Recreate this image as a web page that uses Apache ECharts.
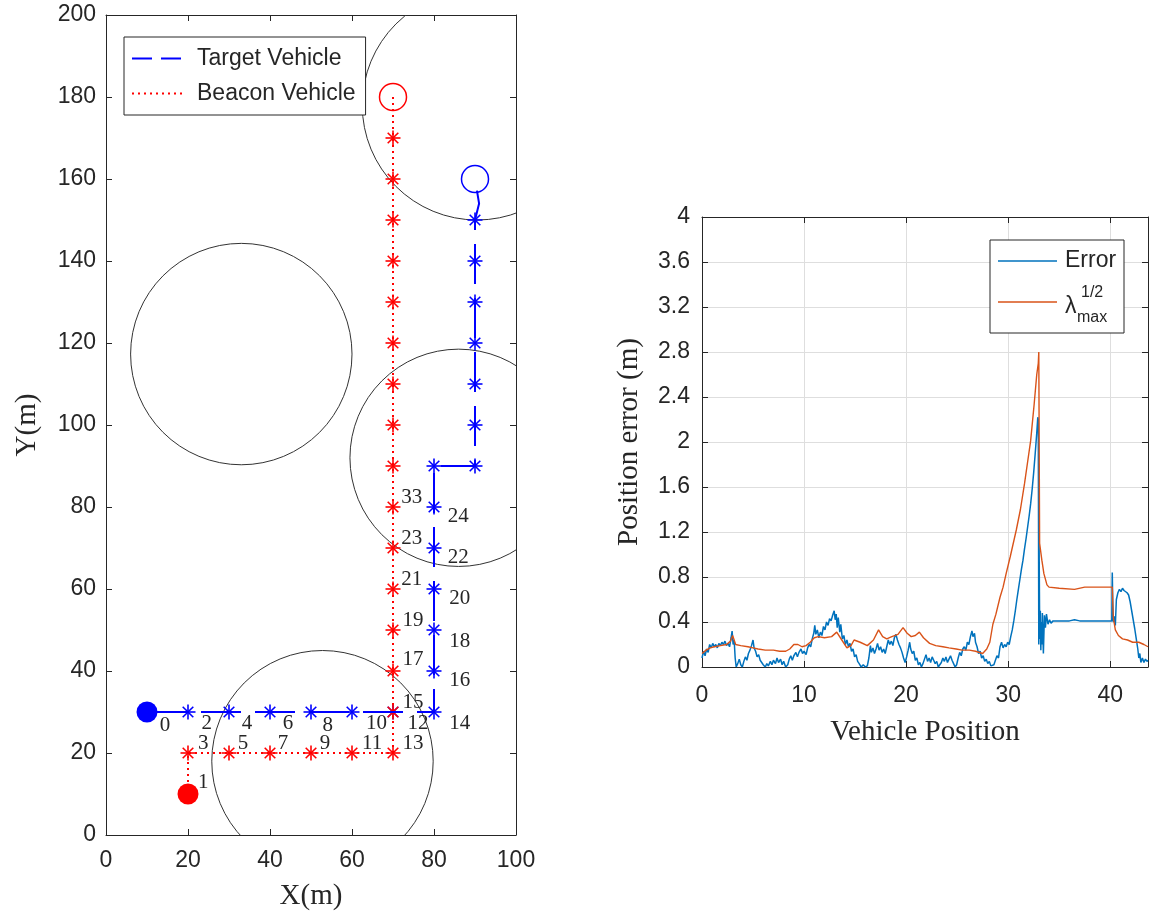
<!DOCTYPE html>
<html>
<head>
<meta charset="utf-8">
<script src="https://cdn.jsdelivr.net/npm/echarts@6/dist/echarts.min.js"></script>
<style>
html, body { margin: 0; padding: 0; background: #fff; }
#chart { width: 1152px; height: 915px; }
</style>
</head>
<body>
<div id="chart"></div>
<script>
// ---- left panel: vehicle tracks (m) ----
var targetPathX = [10, 20, 30, 40, 50, 60, 70, 80, 80, 80, 80, 80, 80, 80, 90, 90, 90, 90, 90, 90, 90, 91, 90]
var targetPathY = [30, 30, 30, 30, 30, 30, 30, 30, 40, 50, 60, 70, 80, 90, 90, 100, 110, 120, 130, 140, 150, 154, 160]
var targetStarX = [20, 30, 40, 50, 60, 70, 80, 80, 80, 80, 80, 80, 80, 90, 90, 90, 90, 90, 90, 90]
var targetStarY = [30, 30, 30, 30, 30, 30, 30, 40, 50, 60, 70, 80, 90, 90, 100, 110, 120, 130, 140, 150]
var beaconPathX = [20, 20, 30, 40, 50, 60, 70, 70, 70, 70, 70, 70, 70, 70, 70, 70, 70, 70, 70, 70, 70, 70, 70]
var beaconPathY = [10, 20, 20, 20, 20, 20, 20, 30, 40, 50, 60, 70, 80, 90, 100, 110, 120, 130, 140, 150, 160, 170, 180]
var beaconStarX = [20, 30, 40, 50, 60, 70, 70, 70, 70, 70, 70, 70, 70, 70, 70, 70, 70, 70, 70, 70, 70]
var beaconStarY = [20, 20, 20, 20, 20, 20, 30, 40, 50, 60, 70, 80, 90, 100, 110, 120, 130, 140, 150, 160, 170]
var startX = [10, 20]
var startY = [30, 10]
var endX = [90, 70]
var endY = [160, 180]

// coverage circles: centre and radius (m)
var circleCX = [90.5, 33, 86, 52.8]
var circleCY = [178, 117.3, 92, 18]
var circleR = [28, 27, 26.5, 27]

// step numbers
var stepText = ['0', '1', '2', '3', '4', '5', '6', '7', '8', '9', '10', '11', '12', '13', '14', '15', '16', '17', '18', '19', '20', '21', '22', '23', '24', '33']
var stepX = [14.4, 23.7, 24.6, 23.7, 34.4, 33.4, 44.4, 43.2, 54.1, 53.4, 66, 64.9, 76.1, 74.9, 86.3, 74.9, 86.3, 74.9, 86.3, 74.9, 86.3, 74.6, 85.9, 74.6, 85.9, 74.6]
var stepY = [26.8, 12.7, 27.3, 22.4, 27.3, 22.4, 27.3, 22.4, 26.8, 22.4, 27.3, 22.4, 27.3, 22.4, 27.3, 32.4, 37.8, 42.7, 47.1, 52.4, 57.8, 62.2, 67.6, 72.4, 77.6, 82.2]

// ---- right panel: position error vs vehicle position ----
var errX = [
  0.0, 0.15, 0.3, 0.45, 0.6, 0.75, 0.9, 1.05, 1.2, 1.35,
  1.5, 1.65, 1.8, 1.95, 2.1, 2.25, 2.4, 2.55, 2.7, 2.85,
  2.95, 3.05, 3.15, 3.25, 3.35, 3.5, 3.65, 3.8, 3.95, 4.1,
  4.25, 4.4, 4.55, 4.7, 4.85, 5.0, 5.1, 5.25, 5.4, 5.55,
  5.7, 5.85, 6.0, 6.2, 6.35, 6.5, 6.7, 6.85, 7.0, 7.2,
  7.35, 7.5, 7.7, 7.85, 8.0, 8.2, 8.4, 8.55, 8.7, 8.85,
  9.0, 9.2, 9.35, 9.5, 9.7, 9.85, 10.0, 10.2, 10.35, 10.5,
  10.65, 10.8, 10.95, 11.05, 11.15, 11.3, 11.45, 11.6, 11.75, 11.9,
  12.05, 12.2, 12.35, 12.5, 12.65, 12.8, 12.95, 13.05, 13.15, 13.25,
  13.35, 13.5, 13.6, 13.75, 13.9, 14.05, 14.2, 14.35, 14.5, 14.65,
  14.8, 14.95, 15.1, 15.25, 15.4, 15.6, 15.8, 16.0, 16.2, 16.35,
  16.5, 16.6, 16.75, 16.9, 17.05, 17.2, 17.35, 17.5, 17.65, 17.8,
  17.95, 18.1, 18.25, 18.4, 18.55, 18.7, 18.85, 19.0, 19.15, 19.3,
  19.45, 19.6, 19.75, 19.9, 20.05, 20.2, 20.35, 20.45, 20.6, 20.75,
  20.9, 21.05, 21.2, 21.35, 21.5, 21.65, 21.8, 21.95, 22.1, 22.25,
  22.4, 22.55, 22.7, 22.85, 23.0, 23.15, 23.3, 23.45, 23.6, 23.75,
  23.9, 24.05, 24.2, 24.35, 24.5, 24.65, 24.8, 24.95, 25.1, 25.25,
  25.4, 25.55, 25.7, 25.85, 26.0, 26.15, 26.3, 26.45, 26.55, 26.7,
  26.8, 26.95, 27.1, 27.25, 27.4, 27.55, 27.7, 27.85, 28.0, 28.15,
  28.3, 28.45, 28.6, 28.75, 28.9, 29.05, 29.2, 29.35, 29.5, 29.65,
  29.8, 29.95, 30.1, 30.25, 30.4, 30.55, 30.7, 30.85, 31.0, 31.15,
  31.3, 31.45, 31.6, 31.75, 31.9, 32.05, 32.2, 32.35, 32.5, 32.65,
  32.8, 32.9, 32.95, 33.0, 33.03, 33.07, 33.1, 33.15, 33.2, 33.25,
  33.3, 33.35, 33.45, 33.55, 33.65, 33.75, 33.9, 34.05, 34.2, 34.4,
  35.0, 36.0, 36.5, 37.0, 38.0, 39.0, 40.15, 40.2, 40.25, 40.3,
  40.4, 40.5, 40.6, 40.75, 40.9, 41.05, 41.2, 41.35, 41.5, 41.65,
  41.8, 41.95, 42.1, 42.25, 42.4, 42.55, 42.7, 42.8, 42.9, 43.0,
  43.15, 43.3, 43.45, 43.6, 43.7]
var errY = [
  0.08, 0.14, 0.1, 0.16, 0.13, 0.2, 0.17, 0.21, 0.18, 0.2,
  0.17, 0.21, 0.19, 0.22, 0.2, 0.23, 0.19, 0.21, 0.18, 0.26,
  0.32, 0.2, 0.24, 0.08, 0.0, 0.03, 0.07, 0.02, 0.0, 0.05,
  0.09, 0.06, 0.12, 0.15, 0.19, 0.24, 0.17, 0.14, 0.09, 0.11,
  0.06, 0.07, 0.02, 0.0, 0.03, 0.01, 0.05, 0.02, 0.06, 0.03,
  0.08, 0.04, 0.07, 0.02, 0.05, 0.0, 0.02, 0.07, 0.1, 0.06,
  0.1, 0.13, 0.09, 0.13, 0.16, 0.12, 0.14, 0.11, 0.17, 0.2,
  0.18, 0.25, 0.3, 0.37, 0.29, 0.33, 0.26, 0.31, 0.28, 0.36,
  0.33, 0.4, 0.37, 0.43, 0.41, 0.46, 0.5, 0.42, 0.47, 0.35,
  0.44, 0.31, 0.38, 0.25, 0.28, 0.2, 0.24, 0.18, 0.21, 0.14,
  0.16, 0.09, 0.11, 0.05, 0.03, 0.0, 0.02, 0.0, 0.01, 0.08,
  0.19, 0.13, 0.17, 0.12, 0.16, 0.21, 0.15, 0.18, 0.13, 0.16,
  0.12, 0.18, 0.24, 0.2, 0.23, 0.19, 0.26, 0.29, 0.24, 0.2,
  0.17, 0.13, 0.08, 0.04, 0.09, 0.15, 0.22, 0.16, 0.12, 0.14,
  0.06, 0.08, 0.02, 0.04, 0.0, 0.03, 0.07, 0.11, 0.05, 0.08,
  0.04, 0.09, 0.06, 0.03, 0.05, 0.0, 0.01, 0.04, 0.08, 0.05,
  0.09, 0.04, 0.07, 0.1, 0.06, 0.03, 0.0, 0.02, 0.08, 0.13,
  0.1, 0.16, 0.18, 0.15, 0.22, 0.2, 0.27, 0.32, 0.27, 0.3,
  0.22, 0.18, 0.12, 0.14, 0.08, 0.1, 0.05, 0.07, 0.03, 0.05,
  0.01, 0.0, 0.02, 0.06, 0.1, 0.08, 0.18, 0.22, 0.17, 0.2,
  0.18, 0.22, 0.2, 0.27, 0.33, 0.41, 0.5, 0.6, 0.69, 0.78,
  0.87, 0.95, 1.05, 1.14, 1.24, 1.34, 1.45, 1.58, 1.73, 1.9,
  2.08, 2.22, 2.2, 0.2, 1.1, 0.55, 0.25, 0.5, 0.15, 0.4,
  0.2, 0.48, 0.12, 0.46, 0.35, 0.47, 0.38, 0.42, 0.39, 0.41,
  0.41, 0.41, 0.42, 0.41, 0.41, 0.41, 0.41, 0.84, 0.55, 0.4,
  0.45, 0.37, 0.6, 0.66, 0.69, 0.67, 0.7, 0.68, 0.69, 0.66,
  0.64, 0.58, 0.5, 0.42, 0.34, 0.25, 0.16, 0.08, 0.12, 0.04,
  0.08, 0.04, 0.07, 0.05, 0.06]
var lamX = [0.0, 0.4, 0.8, 1.2, 1.8, 2.4, 2.8, 3.0, 3.3, 3.8, 4.5, 5.0, 5.5, 6.2, 7.0, 7.6, 8.2, 8.6, 9.0, 9.4,
  9.8, 10.2, 10.6, 11.0, 11.4, 12.0, 12.7, 13.2, 13.7, 14.2, 14.6, 14.9, 15.5, 16.2, 16.8, 17.3, 17.7, 18.1, 18.6, 19.2,
  19.7, 20.1, 20.5, 20.9, 21.3, 21.7, 22.3, 22.9, 23.6, 24.2, 24.9, 25.5, 26.2, 26.8, 27.5, 27.9, 28.2, 28.5, 28.8, 29.2,
  29.5, 29.8, 30.2, 30.5, 30.8, 31.2, 31.6, 31.9, 32.2, 32.55, 32.8, 32.95, 33.0, 33.08, 33.3, 33.5, 33.8, 34.0, 35.0, 36.5,
  37.5, 38.5, 39.5, 40.2, 40.3, 40.5, 40.8, 41.2, 41.7, 42.2, 42.8, 43.3, 43.7]
var lamY = [0.12, 0.15, 0.17, 0.18, 0.19, 0.2, 0.23, 0.28, 0.2, 0.19, 0.18, 0.17, 0.16, 0.15, 0.15, 0.14, 0.14, 0.16, 0.2, 0.2,
  0.18, 0.19, 0.22, 0.26, 0.27, 0.26, 0.27, 0.31, 0.24, 0.17, 0.19, 0.24, 0.22, 0.19, 0.24, 0.33, 0.27, 0.25, 0.27, 0.29,
  0.35, 0.3, 0.27, 0.28, 0.31, 0.26, 0.21, 0.19, 0.18, 0.17, 0.16, 0.15, 0.15, 0.14, 0.12, 0.16, 0.22, 0.38, 0.47, 0.62,
  0.71, 0.83, 0.98, 1.1, 1.22, 1.4, 1.63, 1.82, 2.01, 2.34, 2.6, 2.7, 2.8, 1.1, 0.95, 0.83, 0.73, 0.71, 0.7, 0.69,
  0.71, 0.71, 0.71, 0.71, 0.44, 0.33, 0.28, 0.25, 0.24, 0.22, 0.22, 0.2, 0.18]

var ink = '#262626'
var sans = '"Liberation Sans", Arial, sans-serif'
var serif = '"Liberation Serif", "Times New Roman", serif'

function pairs(xs, ys) {
  return xs.map(function (x, i) { return [x, ys[i]] })
}

function starRenderer(color) {
  return function (params, api) {
    var p = api.coord([api.value(0), api.value(1)])
    var a = 7.5
    var d = 5.3
    var segs = [[0, -a, 0, a], [-a, 0, a, 0], [-d, -d, d, d], [-d, d, d, -d]]
    return {
      type: 'group',
      children: segs.map(function (s) {
        return {
          type: 'line',
          shape: { x1: p[0] + s[0], y1: p[1] + s[1], x2: p[0] + s[2], y2: p[1] + s[3] },
          style: { stroke: color, lineWidth: 1.6 }
        }
      })
    }
  }
}

// every axis gets its own objects, ticks point into the plot
function tick() {
  return { show: true, inside: true, length: 6, lineStyle: { color: ink, width: 1 } }
}
function axLine() {
  return { show: true, onZero: false, lineStyle: { color: ink, width: 1 } }
}
function grayGrid() {
  return { show: true, lineStyle: { color: '#dedede', width: 1 } }
}
function tickFont(margin) {
  return { fontFamily: sans, fontSize: 23, color: ink, margin: margin }
}
function nameFont() {
  return { fontFamily: serif, fontSize: 29, color: ink }
}

var chart = echarts.init(document.getElementById('chart'))

var option = {
  animation: false,
  backgroundColor: '#fff',
  grid: [
    { left: 106, top: 15, width: 410, height: 820, outerBoundsMode: 'none', containLabel: false },
    { left: 702, top: 217, width: 446, height: 450, outerBoundsMode: 'none', containLabel: false }
  ],
  legend: {
    data: [
      { name: 'Target Vehicle', lineStyle: { type: [20, 9], width: 2 } },
      { name: 'Beacon Vehicle', lineStyle: { type: [2, 4], width: 2 } }
    ],
    left: 124,
    top: 37,
    orient: 'vertical',
    itemWidth: 50,
    itemHeight: 14,
    itemGap: 12,
    padding: [10, 10, 10, 7],
    borderColor: ink,
    borderWidth: 1,
    backgroundColor: '#fff',
    itemStyle: { color: 'rgba(0,0,0,0)', borderWidth: 0, opacity: 0 },
    textStyle: { fontSize: 23, fontFamily: sans, color: ink, padding: [0, 0, 0, 10] }
  },
  xAxis: [
    {
      gridIndex: 0, type: 'value', min: 0, max: 100, interval: 20,
      name: 'X(m)', nameLocation: 'middle', nameGap: 47, nameTextStyle: nameFont(),
      axisLine: axLine(), axisTick: tick(), splitLine: { show: false }, axisLabel: tickFont(14)
    },
    {
      gridIndex: 0, type: 'value', position: 'top', min: 0, max: 100, interval: 20,
      axisLine: axLine(), axisTick: tick(), splitLine: { show: false }, axisLabel: { show: false }
    },
    {
      gridIndex: 1, type: 'value', min: 0, max: 43.7, interval: 10,
      name: 'Vehicle Position', nameLocation: 'middle', nameGap: 51, nameTextStyle: nameFont(),
      axisLine: axLine(), axisTick: tick(), splitLine: grayGrid(),
      axisLabel: Object.assign(tickFont(17), { showMaxLabel: false })
    },
    {
      gridIndex: 1, type: 'value', position: 'top', min: 0, max: 43.7, interval: 10,
      axisLine: axLine(), axisTick: tick(), splitLine: { show: false }, axisLabel: { show: false }
    }
  ],
  yAxis: [
    {
      gridIndex: 0, type: 'value', min: 0, max: 200, interval: 20,
      name: 'Y(m)', nameLocation: 'middle', nameGap: 64, nameTextStyle: nameFont(),
      axisLine: axLine(), axisTick: tick(), splitLine: { show: false }, axisLabel: tickFont(10)
    },
    {
      gridIndex: 0, type: 'value', position: 'right', min: 0, max: 200, interval: 20,
      axisLine: axLine(), axisTick: tick(), splitLine: { show: false }, axisLabel: { show: false }
    },
    {
      gridIndex: 1, type: 'value', min: 0, max: 4, interval: 0.4,
      name: 'Position error (m)', nameLocation: 'middle', nameGap: 58, nameTextStyle: nameFont(),
      axisLine: axLine(), axisTick: tick(), splitLine: grayGrid(), axisLabel: tickFont(12)
    },
    {
      gridIndex: 1, type: 'value', position: 'right', min: 0, max: 4, interval: 0.4,
      axisLine: axLine(), axisTick: tick(), splitLine: { show: false }, axisLabel: { show: false }
    }
  ],
  series: [
    {
      name: 'circles',
      type: 'custom',
      xAxisIndex: 0, yAxisIndex: 0,
      clip: true,
      data: circleCX.map(function (x, i) { return [x, circleCY[i], circleR[i]] }),
      renderItem: function (params, api) {
        var c = api.coord([api.value(0), api.value(1)])
        var r = api.size([api.value(2), 0])[0]
        return { type: 'circle', shape: { cx: c[0], cy: c[1], r: r }, style: { fill: 'none', stroke: '#333', lineWidth: 1 } }
      },
      z: 1
    },
    {
      name: 'Target Vehicle',
      type: 'line',
      xAxisIndex: 0, yAxisIndex: 0,
      data: pairs(targetPathX, targetPathY),
      symbol: 'none',
      lineStyle: { color: '#0000ff', width: 2, type: [40, 14] },
      itemStyle: { color: '#0000ff' }
    },
    {
      name: 'Beacon Vehicle',
      type: 'line',
      xAxisIndex: 0, yAxisIndex: 0,
      data: pairs(beaconPathX, beaconPathY),
      symbol: 'none',
      lineStyle: { color: '#ff0000', width: 2, type: [2, 4] },
      itemStyle: { color: '#ff0000' }
    },
    {
      name: 'target stars', type: 'custom', xAxisIndex: 0, yAxisIndex: 0,
      data: pairs(targetStarX, targetStarY), renderItem: starRenderer('#0000ff'), z: 3
    },
    {
      name: 'beacon stars', type: 'custom', xAxisIndex: 0, yAxisIndex: 0,
      data: pairs(beaconStarX, beaconStarY), renderItem: starRenderer('#ff0000'), z: 3
    },
    {
      name: 'start', type: 'scatter', xAxisIndex: 0, yAxisIndex: 0,
      symbol: 'circle', symbolSize: 21,
      data: [
        { value: [startX[0], startY[0]], itemStyle: { color: '#0000ff' } },
        { value: [startX[1], startY[1]], itemStyle: { color: '#ff0000' } }
      ],
      itemStyle: { opacity: 1 },
      z: 3
    },
    {
      name: 'end', type: 'scatter', xAxisIndex: 0, yAxisIndex: 0,
      symbol: 'circle', symbolSize: 27,
      data: [
        { value: [endX[0], endY[0]], itemStyle: { color: 'rgba(0,0,0,0)', borderColor: '#0000ff', borderWidth: 1.5 } },
        { value: [endX[1], endY[1]], itemStyle: { color: 'rgba(0,0,0,0)', borderColor: '#ff0000', borderWidth: 1.5 } }
      ],
      itemStyle: { opacity: 1 },
      z: 3
    },
    {
      name: 'steps', type: 'custom', xAxisIndex: 0, yAxisIndex: 0,
      data: stepX.map(function (x, i) { return [x, stepY[i], i] }),
      renderItem: function (params, api) {
        var p = api.coord([api.value(0), api.value(1)])
        return {
          type: 'text', x: p[0], y: p[1],
          style: {
            text: stepText[api.value(2)], fill: ink, font: '21px ' + serif,
            align: 'center', verticalAlign: 'middle', textAlign: 'center', textVerticalAlign: 'middle'
          }
        }
      },
      z: 4
    },
    {
      name: 'Error', type: 'line', xAxisIndex: 2, yAxisIndex: 2,
      data: pairs(errX, errY), showSymbol: false, symbol: 'none',
      lineStyle: { color: '#0072BD', width: 1.5 }
    },
    {
      name: 'lambda', type: 'line', xAxisIndex: 2, yAxisIndex: 2,
      data: pairs(lamX, lamY), showSymbol: false, symbol: 'none',
      lineStyle: { color: '#D95319', width: 1.4 }
    }
  ],
  graphic: [
    { type: 'rect', z: 10, shape: { x: 990, y: 240, width: 134, height: 93 }, style: { fill: '#fff', stroke: ink, lineWidth: 1 } },
    { type: 'line', z: 11, shape: { x1: 998, y1: 261, x2: 1057, y2: 261 }, style: { stroke: '#0072BD', lineWidth: 1.5 } },
    { type: 'text', z: 11, x: 1065, y: 261, style: { text: 'Error', font: '23px ' + sans, fill: ink, verticalAlign: 'middle', textVerticalAlign: 'middle' } },
    { type: 'line', z: 11, shape: { x1: 998, y1: 302, x2: 1057, y2: 302 }, style: { stroke: '#D95319', lineWidth: 1.5 } },
    { type: 'text', z: 11, x: 1065, y: 307, style: { text: 'λ', font: '23px ' + sans, fill: ink, verticalAlign: 'middle', textVerticalAlign: 'middle' } },
    { type: 'text', z: 11, x: 1081, y: 293, style: { text: '1/2', font: '16px ' + sans, fill: ink, verticalAlign: 'middle', textVerticalAlign: 'middle' } },
    { type: 'text', z: 11, x: 1077, y: 318, style: { text: 'max', font: '16px ' + sans, fill: ink, verticalAlign: 'middle', textVerticalAlign: 'middle' } }
  ]
}

chart.setOption(option)
</script>
</body>
</html>
